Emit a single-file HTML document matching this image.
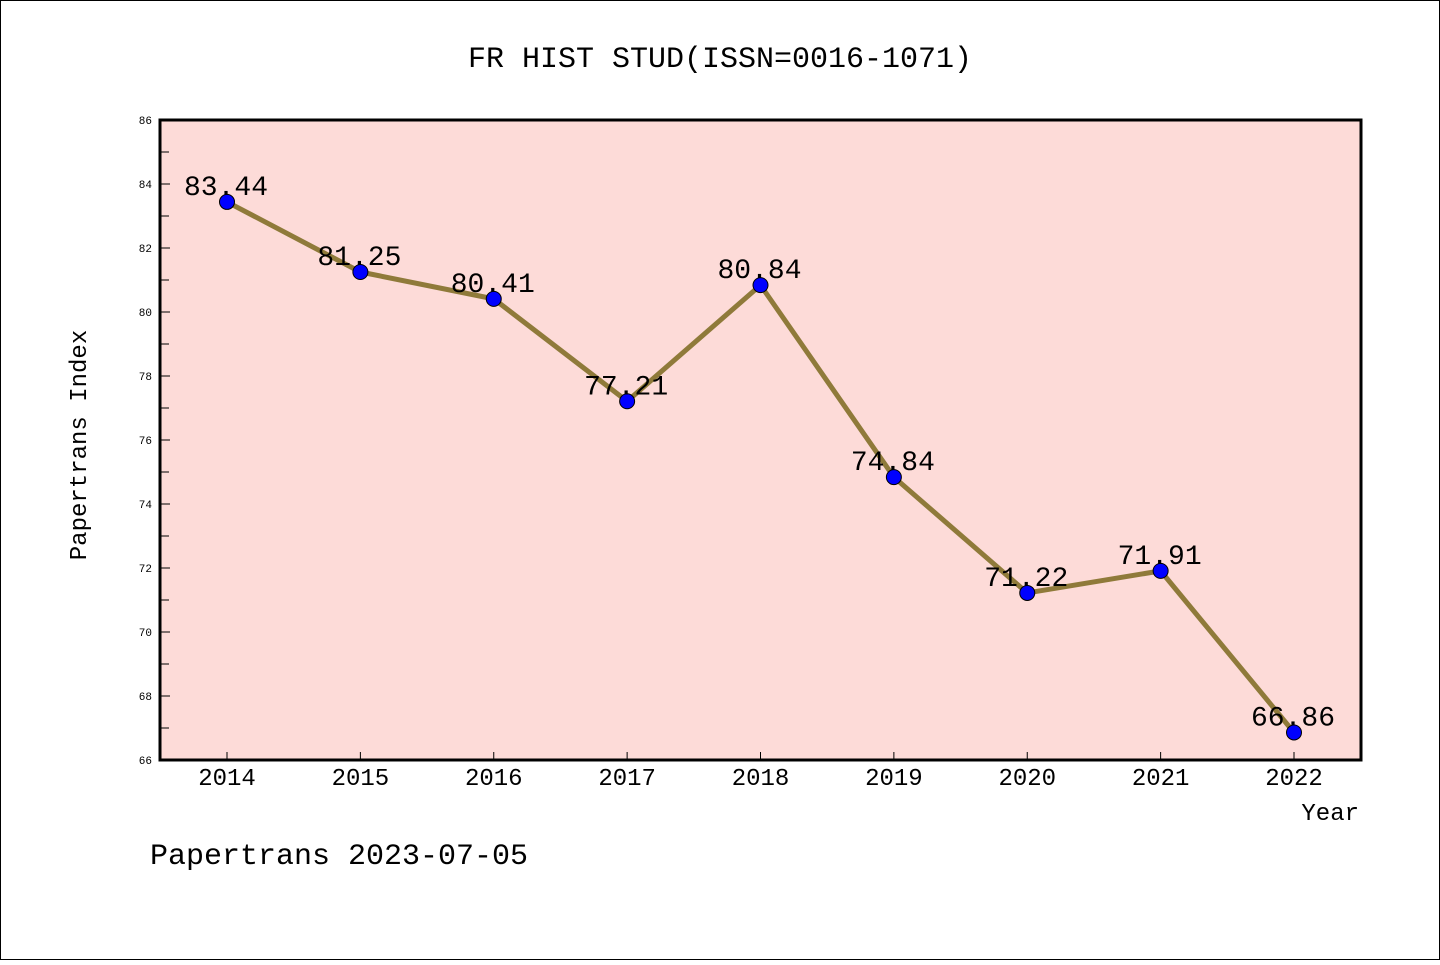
<!DOCTYPE html>
<html><head><meta charset="utf-8"><style>
html,body{margin:0;padding:0;background:#fff}
svg text{font-family:"Liberation Mono","WenQuanYi Zen Hei",monospace}
</style></head><body>
<svg id="chart" width="1440" height="960" xmlns="http://www.w3.org/2000/svg">
<rect x="0.5" y="0.5" width="1439" height="959" fill="#fff" stroke="#000"/>
<text x="720" y="67" font-size="30" text-anchor="middle">FR HIST STUD(ISSN=0016-1071)</text>
<rect x="160" y="120" width="1201" height="640" fill="#fddbd8"/>
<g id="axes"></g>
<g id="series"></g>
<rect x="160" y="120" width="1201" height="640" fill="none" stroke="#000" stroke-width="3"/>
<text x="86" y="445" font-size="24" text-anchor="middle" transform="rotate(-90 86 445)">Papertrans Index</text>
<text x="1359" y="820" font-size="24" text-anchor="end">Year</text>
<text x="150" y="864" font-size="30">Papertrans 2023-07-05</text>
</svg>
<script>
const categories=["2014","2015","2016","2017","2018","2019","2020","2021","2022"];
const values=[83.44,81.25,80.41,77.21,80.84,74.84,71.22,71.91,66.86];
const valueLabels=["83.44","81.25","80.41","77.21","80.84","74.84","71.22","71.91","66.86"];
const yTicks=[66,68,70,72,74,76,78,80,82,84,86];
const NS="http://www.w3.org/2000/svg";
const yMin=66,yMax=86,plotTop=120,plotBottom=760,xStart=227,xEnd=1294;
function yScale(v){return plotBottom-(v-yMin)/(yMax-yMin)*(plotBottom-plotTop);}
function xScale(i){return xStart+i*(xEnd-xStart)/(categories.length-1);}
function mk(t,a,p){const e=document.createElementNS(NS,t);for(const k in a)e.setAttribute(k,a[k]);p.appendChild(e);return e;}
const ax=document.getElementById('axes'),se=document.getElementById('series');
yTicks.forEach(t=>{
 const l=mk('line',{x1:160,x2:170,y1:yScale(t),y2:yScale(t),stroke:'#000','stroke-width':1},ax);
 
 
 const tx=mk('text',{x:152,y:yScale(t)+4,'font-size':11,'text-anchor':'end'},ax);
 tx.textContent=t;
 
 
 if(t<yMax){const m=mk('line',{x1:160,x2:169,y1:yScale(t+1),y2:yScale(t+1),stroke:'#000','stroke-width':1},ax);
 
 }
});
categories.forEach((c,i)=>{
 const l=mk('line',{x1:xScale(i),x2:xScale(i),y1:752,y2:760,stroke:'#000','stroke-width':1},ax);
 
 
 const tx=mk('text',{x:xScale(i),y:785,'font-size':24,'text-anchor':'middle'},ax);
 tx.textContent=c;
 
 
});
const pl=mk('polyline',{points:values.map((v,i)=>xScale(i)+','+yScale(v)).join(' '),fill:'none',stroke:'#8f7a3a','stroke-width':5,'stroke-linejoin':'round'},se);


values.forEach((v,i)=>{
 const c=mk('circle',{cx:xScale(i),cy:yScale(v),r:7.5,fill:'#0000ff',stroke:'#000','stroke-width':1},se);
 
 
 const t=mk('text',{x:xScale(i)-1,y:yScale(v)-7,'font-size':28,'text-anchor':'middle'},se);
 t.textContent=valueLabels[i];
 
 
});
</script>
</body></html>
